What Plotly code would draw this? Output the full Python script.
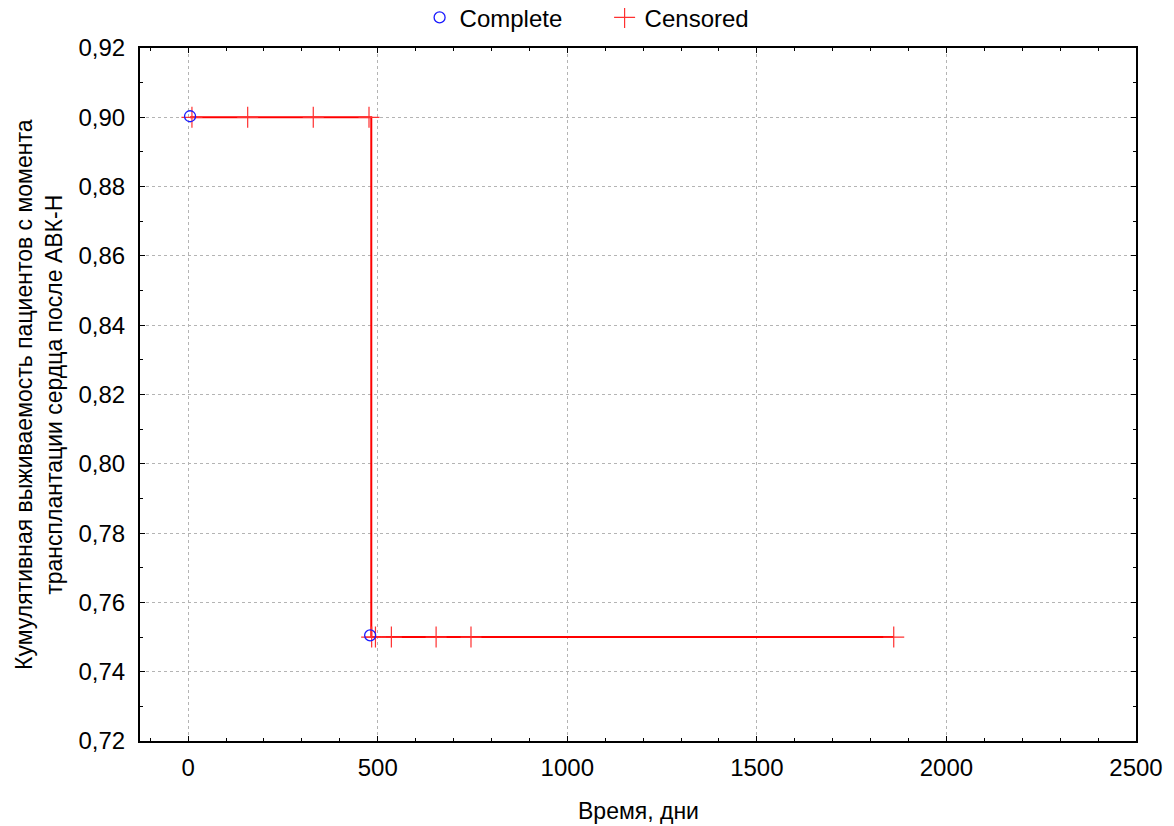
import plotly.graph_objects as go

# Kaplan-Meier style data (time in days, cumulative survival)
curve_t = [5, 483, 1861]
curve_s = [0.90, 0.75, 0.75]

complete_t = [5, 480]
complete_s = [0.9003, 0.7505]

censored_t = [10, 157, 330, 477, 484, 494, 536, 654, 746, 1861]
censored_s = [0.90, 0.90, 0.90, 0.90, 0.75, 0.75, 0.75, 0.75, 0.75, 0.75]

x_ticks = [0, 500, 1000, 1500, 2000, 2500]
y_ticks = [0.72, 0.74, 0.76, 0.78, 0.80, 0.82, 0.84, 0.86, 0.88, 0.90, 0.92]

x_title = "Время, дни"
y_title = "Кумулятивная выживаемость пациентов с момента<br>трансплантации сердца после АВК-Н"

font_family = "Liberation Sans, Arial, sans-serif"

fig = go.Figure()
fig.add_trace(go.Scatter(
    x=curve_t, y=curve_s, mode="lines", line=dict(shape="hv", color="#ff0000", width=2),
    showlegend=False, hoverinfo="skip"))
fig.add_trace(go.Scatter(
    x=censored_t, y=censored_s, mode="markers", name="Censored",
    marker=dict(symbol="cross-thin", size=15, line=dict(color="#ff3030", width=1.2), color="#ff3030")))
fig.add_trace(go.Scatter(
    x=complete_t, y=complete_s, mode="markers", name="Complete",
    marker=dict(symbol="circle-open", size=11, line=dict(color="#1a1aff", width=1.3), color="#1a1aff")))

axis_common = dict(
    ticks="inside", ticklen=5, tickwidth=1, tickcolor="black",
    showline=True, linecolor="black", linewidth=2, mirror="allticks",
    showgrid=True, gridcolor="#b4b4b4", griddash="3px,3px", gridwidth=1, zeroline=False,
    tickfont=dict(size=24), automargin=False,
)

fig.update_layout(
    width=1166, height=818,
    margin=dict(l=132, r=38, t=40, b=85),
    paper_bgcolor="white", plot_bgcolor="white",
    separators=",.",
    font=dict(family=font_family, size=24, color="black"),
    legend=dict(orientation="h", xref="container", yref="container",
                x=0.353, xanchor="left", y=0.988, yanchor="middle",
                font=dict(size=24), traceorder="reversed",
                entrywidth=140, entrywidthmode="pixels",
                bgcolor="rgba(0,0,0,0)"),
    xaxis=dict(
        range=[-127, 2500], tickvals=x_ticks, ticklabelstandoff=4,
        minor=dict(dtick=100, tick0=0, ticks="inside", ticklen=3, tickcolor="black", showgrid=False),
        **axis_common,
    ),
    yaxis=dict(
        range=[0.72, 0.92], tickvals=y_ticks, tickformat=".2f", ticklabelstandoff=8,
        minor=dict(dtick=0.01, tick0=0.72, ticks="inside", ticklen=3, tickcolor="black", showgrid=False),
        **axis_common,
    ),
    annotations=[
        dict(text=x_title, xref="paper", yref="paper", x=0.5, y=-0.101,
             xanchor="center", yanchor="middle", showarrow=False, font=dict(size=23)),
        dict(text=y_title, xref="paper", yref="paper", x=-0.102, y=0.5,
             xanchor="center", yanchor="middle", textangle=-90, showarrow=False,
             font=dict(size=23)),
    ],
)

fig.write_html("out.html")
